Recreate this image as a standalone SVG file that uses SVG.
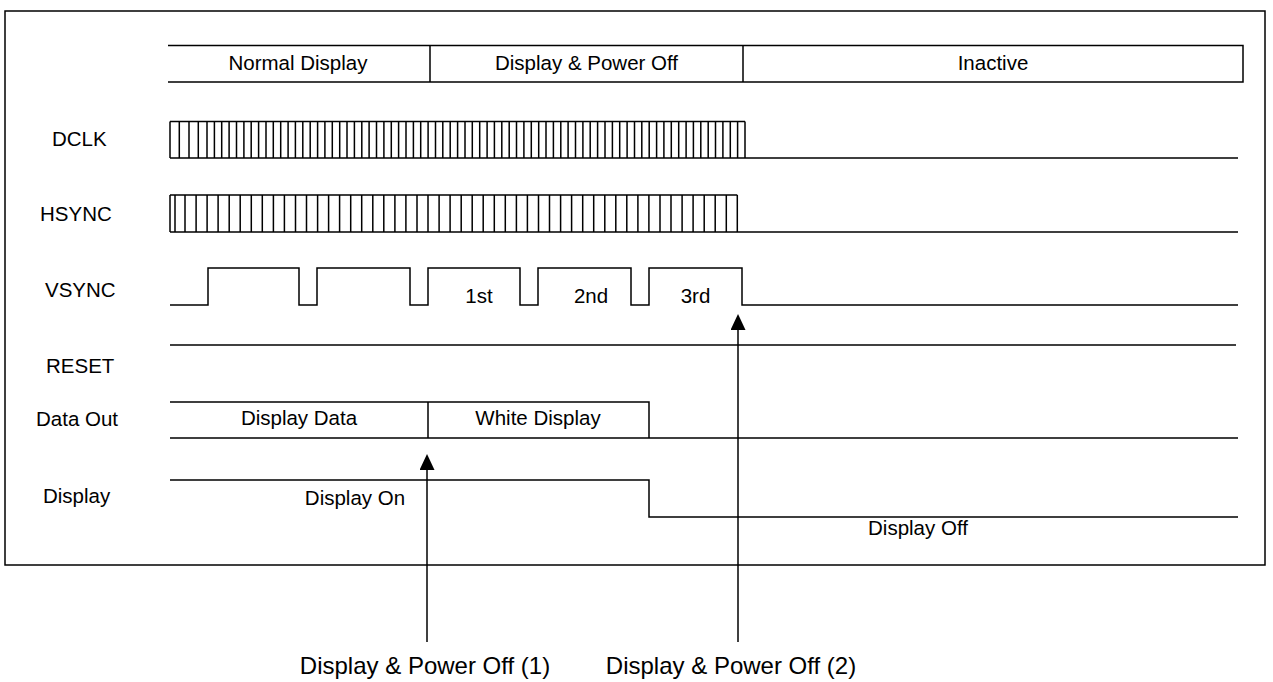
<svg xmlns="http://www.w3.org/2000/svg" width="1273" height="682" viewBox="0 0 1273 682">
<style>
.ln{fill:none;stroke:#000;stroke-width:1.5}
.t{font-family:"Liberation Sans",Arial,sans-serif;font-size:20.5px;fill:#000}
.tb{font-family:"Liberation Sans",Arial,sans-serif;font-size:24px;fill:#000}
</style>
<defs>
<marker id="ah" viewBox="0 0 16 15" refX="14" refY="7.5" markerWidth="16" markerHeight="15" markerUnits="userSpaceOnUse" orient="auto">
<path d="M0,0 L16,7.5 L0,15 z" fill="#000"/>
</marker>
</defs>
<rect x="5" y="11" width="1260" height="554" class="ln"/>

<g id="header">
<path class="ln" d="M168 45.5 H1243 V82 H168 M430 45.5 V82 M743 45.5 V82"/>
<text class="t" x="298" y="70" text-anchor="middle">Normal Display</text>
<text class="t" x="586.5" y="70" text-anchor="middle">Display &amp; Power Off</text>
<text class="t" x="993" y="70" text-anchor="middle">Inactive</text>
</g>

<g id="dclk">
<text class="t" x="52" y="146">DCLK</text>
<path class="ln" d="M170 121.5 H745 M170 158 H1238"/>
<path class="ln" d="M170 121.5V158M179.3 121.5V158M189 121.5V158M198.3 121.5V158M207 121.5V158M214.4 121.5V158M221.7 121.5V158M229.1 121.5V158M236.5 121.5V158M243.9 121.5V158M251.2 121.5V158M258.6 121.5V158M266 121.5V158M273.3 121.5V158M280.7 121.5V158M288.1 121.5V158M295.4 121.5V158M302.8 121.5V158M310.2 121.5V158M317.6 121.5V158M324.9 121.5V158M332.3 121.5V158M339.7 121.5V158M347 121.5V158M354.4 121.5V158M361.8 121.5V158M369.1 121.5V158M376.5 121.5V158M383.9 121.5V158M391.3 121.5V158M398.6 121.5V158M406 121.5V158M413.4 121.5V158M420.7 121.5V158M428.1 121.5V158M435.5 121.5V158M442.8 121.5V158M450.2 121.5V158M457.6 121.5V158M465 121.5V158M472.3 121.5V158M479.7 121.5V158M487.1 121.5V158M494.4 121.5V158M501.8 121.5V158M509.2 121.5V158M516.5 121.5V158M523.9 121.5V158M531.3 121.5V158M538.7 121.5V158M546 121.5V158M553.4 121.5V158M560.8 121.5V158M568.1 121.5V158M575.5 121.5V158M582.9 121.5V158M590.2 121.5V158M597.6 121.5V158M605 121.5V158M612.4 121.5V158M619.7 121.5V158M627.1 121.5V158M634.5 121.5V158M641.8 121.5V158M649.2 121.5V158M656.6 121.5V158M663.9 121.5V158M671.3 121.5V158M678.7 121.5V158M686.1 121.5V158M693.4 121.5V158M700.8 121.5V158M708.2 121.5V158M715.5 121.5V158M722.9 121.5V158M730.3 121.5V158M737.6 121.5V158M745 121.5V158"/>
</g>

<g id="hsync">
<text class="t" x="40" y="221">HSYNC</text>
<path class="ln" d="M170 195 H737.3 M170 232 H1238"/>
<path class="ln" d="M170 195V232M175 195V232M185 195V232M196.1 195V232M207.1 195V232M218.1 195V232M229.2 195V232M240.2 195V232M251.3 195V232M262.3 195V232M273.4 195V232M284.4 195V232M295.5 195V232M306.5 195V232M317.6 195V232M328.6 195V232M339.6 195V232M350.7 195V232M361.7 195V232M372.8 195V232M383.8 195V232M394.9 195V232M405.9 195V232M417 195V232M428 195V232M439.1 195V232M450.1 195V232M461.2 195V232M472.2 195V232M483.2 195V232M494.3 195V232M505.3 195V232M516.4 195V232M527.4 195V232M538.5 195V232M549.5 195V232M560.6 195V232M571.6 195V232M582.7 195V232M593.7 195V232M604.8 195V232M615.8 195V232M626.8 195V232M637.9 195V232M648.9 195V232M660 195V232M671 195V232M682.1 195V232M693.1 195V232M704.2 195V232M715.2 195V232M726.3 195V232M737.3 195V232"/>
</g>

<g id="vsync">
<text class="t" x="45" y="297">VSYNC</text>
<path class="ln" d="M170 305 H208 V268 H299 V305 H317 V268 H410 V305 H428 V268 H520 V305 H538 V268 H631 V305 H649 V268 H742 V305 H1238"/>
<text class="t" x="479" y="303" text-anchor="middle">1st</text>
<text class="t" x="591" y="303" text-anchor="middle">2nd</text>
<text class="t" x="695.5" y="303" text-anchor="middle">3rd</text>
</g>

<g id="reset">
<text class="t" x="46" y="373">RESET</text>
<path class="ln" d="M170 345 H1236"/>
</g>

<g id="dataout">
<text class="t" x="36" y="426">Data Out</text>
<path class="ln" d="M170 402 H649 V438 M170 438 H1238 M428 402 V438"/>
<text class="t" x="299" y="425" text-anchor="middle">Display Data</text>
<text class="t" x="538" y="425" text-anchor="middle">White Display</text>
</g>

<g id="display">
<text class="t" x="43" y="503">Display</text>
<path class="ln" d="M170 480 H649 V517 H1238"/>
<text class="t" x="355" y="505" text-anchor="middle">Display On</text>
<text class="t" x="918" y="535" text-anchor="middle">Display Off</text>
</g>

<g id="connectors">
<line class="ln" x1="427" y1="642" x2="427" y2="456" marker-end="url(#ah)"/>
<line class="ln" x1="738" y1="642" x2="738" y2="316" marker-end="url(#ah)"/>
</g>

<g id="labels">
<text class="tb" x="425" y="674" text-anchor="middle">Display &amp; Power Off (1)</text>
<text class="tb" x="731" y="674" text-anchor="middle">Display &amp; Power Off (2)</text>
</g>
</svg>
